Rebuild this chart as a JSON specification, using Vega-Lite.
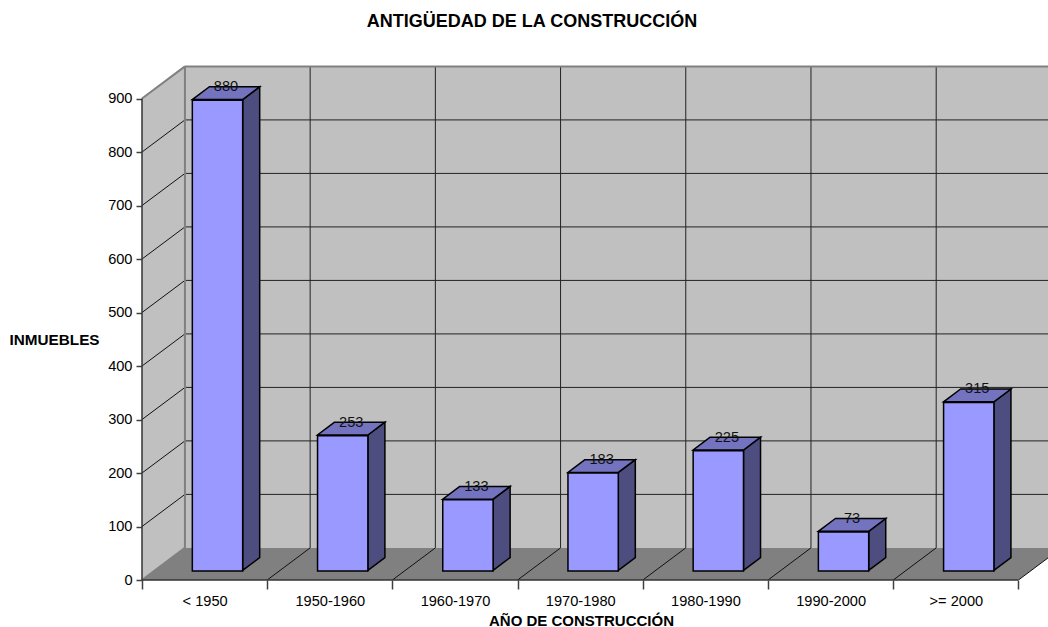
{
"$schema":"https://vega.github.io/schema/vega-lite/v6.json",
"width":906,"height":520,
"autosize":{"type":"none"},
"padding":{"left":142,"top":60,"right":0,"bottom":47},
"background":"white",
"title":{"text":"ANTIGÜEDAD DE LA CONSTRUCCIÓN","font":"Liberation Sans","fontSize":18,"fontWeight":"bold","color":"black","anchor":"middle","frame":"group","dx":-63,"offset":29},
"config":{"view":{"stroke":null},"font":"Liberation Sans"},
"datasets":{
"barras":[
{"categoria":"< 1950","izq":0.402,"der":0.804,"centro":0.671,"valor":880},
{"categoria":"1950-1960","izq":1.402,"der":1.804,"centro":1.671,"valor":253},
{"categoria":"1960-1970","izq":2.402,"der":2.804,"centro":2.671,"valor":133},
{"categoria":"1970-1980","izq":3.402,"der":3.804,"centro":3.671,"valor":183},
{"categoria":"1980-1990","izq":4.402,"der":4.804,"centro":4.671,"valor":225},
{"categoria":"1990-2000","izq":5.402,"der":5.804,"centro":5.671,"valor":73},
{"categoria":">= 2000","izq":6.402,"der":6.804,"centro":6.671,"valor":315}
],
"lateral":[
{"categoria":"< 1950","x":0.804,"abajo":18,"arriba":898},{"categoria":"< 1950","x":0.94,"abajo":42,"arriba":922},
{"categoria":"1950-1960","x":1.804,"abajo":18,"arriba":271},{"categoria":"1950-1960","x":1.94,"abajo":42,"arriba":295},
{"categoria":"1960-1970","x":2.804,"abajo":18,"arriba":151},{"categoria":"1960-1970","x":2.94,"abajo":42,"arriba":175},
{"categoria":"1970-1980","x":3.804,"abajo":18,"arriba":201},{"categoria":"1970-1980","x":3.94,"abajo":42,"arriba":225},
{"categoria":"1980-1990","x":4.804,"abajo":18,"arriba":243},{"categoria":"1980-1990","x":4.94,"abajo":42,"arriba":267},
{"categoria":"1990-2000","x":5.804,"abajo":18,"arriba":91},{"categoria":"1990-2000","x":5.94,"abajo":42,"arriba":115},
{"categoria":">= 2000","x":6.804,"abajo":18,"arriba":333},{"categoria":">= 2000","x":6.94,"abajo":42,"arriba":357}
],
"tapa":[
{"categoria":"< 1950","y":898,"a":0.402,"b":0.804},{"categoria":"< 1950","y":922,"a":0.538,"b":0.94},
{"categoria":"1950-1960","y":271,"a":1.402,"b":1.804},{"categoria":"1950-1960","y":295,"a":1.538,"b":1.94},
{"categoria":"1960-1970","y":151,"a":2.402,"b":2.804},{"categoria":"1960-1970","y":175,"a":2.538,"b":2.94},
{"categoria":"1970-1980","y":201,"a":3.402,"b":3.804},{"categoria":"1970-1980","y":225,"a":3.538,"b":3.94},
{"categoria":"1980-1990","y":243,"a":4.402,"b":4.804},{"categoria":"1980-1990","y":267,"a":4.538,"b":4.94},
{"categoria":"1990-2000","y":91,"a":5.402,"b":5.804},{"categoria":"1990-2000","y":115,"a":5.538,"b":5.94},
{"categoria":">= 2000","y":333,"a":6.402,"b":6.804},{"categoria":">= 2000","y":357,"a":6.538,"b":6.94}
],
"pared":[{"x":0.343,"x2":7.236,"y":60,"y2":960}],
"paredizq":[{"x":0,"y":0,"y2":900},{"x":0.343,"y":60,"y2":960}],
"suelo":[{"y":0,"a":0,"b":7},{"y":60,"a":0.343,"b":7.343}],
"niveles":[{"n":160},{"n":260},{"n":360},{"n":460},{"n":560},{"n":660},{"n":760},{"n":860}],
"sesgos":[{"a":100,"b":160},{"a":200,"b":260},{"a":300,"b":360},{"a":400,"b":460},{"a":500,"b":560},{"a":600,"b":660},{"a":700,"b":760},{"a":800,"b":860}],
"verticales":[{"x":1.343},{"x":2.343},{"x":3.343},{"x":4.343},{"x":5.343},{"x":6.343}],
"diagonales":[{"a":1,"b":1.343},{"a":2,"b":2.343},{"a":3,"b":3.343},{"a":4,"b":4.343},{"a":5,"b":5.343},{"a":6,"b":6.343},{"a":7,"b":7.343}]
},
"layer":[
{"data":{"name":"pared"},"mark":{"type":"rect","fill":"#C0C0C0"},
"encoding":{
"x":{"field":"x","type":"quantitative","scale":{"domain":[0,7.236],"nice":false,"zero":false},
"axis":{"values":[0,0.5,1,1.5,2,2.5,3,3.5,4,4.5,5,5.5,6,6.5,7],"domain":false,"grid":false,"tickSize":9,"tickColor":"#404040","tickWidth":1.5,
"tickOpacity":{"condition":{"test":"datum.value % 1 == 0","value":1},"value":0},
"labelExpr":"datum.value==0.5?'< 1950':datum.value==1.5?'1950-1960':datum.value==2.5?'1960-1970':datum.value==3.5?'1970-1980':datum.value==4.5?'1980-1990':datum.value==5.5?'1990-2000':datum.value==6.5?'>= 2000':''",
"labelOverlap":false,"labelFlush":false,"labelFont":"Liberation Sans","labelFontSize":14.6,"labelColor":"black","labelPadding":12,"labelBaseline":"middle",
"title":"AÑO DE CONSTRUCCIÓN","titleFont":"Liberation Sans","titleFontSize":15,"titleFontWeight":"bold","titleColor":"black","titleX":439,"titleY":40,"titleAlign":"center","titleBaseline":"middle"}},
"x2":{"field":"x2"},
"y":{"field":"y","type":"quantitative","scale":{"domain":[0,972],"nice":false,"zero":false},
"axis":{"values":[0,100,200,300,400,500,600,700,800,900],"domain":false,"grid":false,"tickSize":6,"tickColor":"#404040","tickWidth":1.5,"labelFont":"Liberation Sans","labelFontSize":14.6,"labelColor":"black","labelPadding":4,
"title":"INMUEBLES","titleFont":"Liberation Sans","titleFontSize":15.3,"titleFontWeight":"bold","titleColor":"black","titleAngle":0,"titleX":-88,"titleY":279,"titleAlign":"center","titleBaseline":"middle"}},
"y2":{"field":"y2"}}},
{"data":{"name":"paredizq"},"mark":{"type":"area","fill":"#C0C0C0","orient":"vertical"},
"encoding":{"x":{"field":"x","type":"quantitative","scale":{"domain":[0,7.236],"nice":false,"zero":false}},
"y":{"field":"y","type":"quantitative","scale":{"domain":[0,972],"nice":false,"zero":false}},"y2":{"field":"y2"}}},
{"data":{"name":"suelo"},"mark":{"type":"area","fill":"#808080","orient":"horizontal","clip":true},
"encoding":{"y":{"field":"y","type":"quantitative","scale":{"domain":[0,972],"nice":false,"zero":false}},
"x":{"field":"a","type":"quantitative","scale":{"domain":[0,7.236],"nice":false,"zero":false}},"x2":{"field":"b"}}},
{"data":{"name":"niveles"},"mark":{"type":"rule","stroke":"#222222","strokeWidth":1},
"encoding":{"x":{"datum":0.343,"type":"quantitative","scale":{"domain":[0,7.236],"nice":false,"zero":false}},"x2":{"datum":7.236},
"y":{"field":"n","type":"quantitative","scale":{"domain":[0,972],"nice":false,"zero":false}}}},
{"data":{"name":"verticales"},"mark":{"type":"rule","stroke":"#222222","strokeWidth":1},
"encoding":{"x":{"field":"x","type":"quantitative","scale":{"domain":[0,7.236],"nice":false,"zero":false}},
"y":{"datum":60,"type":"quantitative","scale":{"domain":[0,972],"nice":false,"zero":false}},"y2":{"datum":960}}},
{"data":{"name":"sesgos"},"mark":{"type":"rule","stroke":"#111111","strokeWidth":1},
"encoding":{"x":{"datum":0,"type":"quantitative","scale":{"domain":[0,7.236],"nice":false,"zero":false}},"x2":{"datum":0.343},
"y":{"field":"a","type":"quantitative","scale":{"domain":[0,972],"nice":false,"zero":false}},"y2":{"field":"b"}}},
{"data":{"name":"diagonales"},"mark":{"type":"rule","stroke":"#111111","strokeWidth":1,"clip":true},
"encoding":{"x":{"field":"a","type":"quantitative","scale":{"domain":[0,7.236],"nice":false,"zero":false}},"x2":{"field":"b"},
"y":{"datum":0,"type":"quantitative","scale":{"domain":[0,972],"nice":false,"zero":false}},"y2":{"datum":60}}},
{"data":{"values":[{"a":0,"b":0.343,"c":900,"d":960},{"a":0,"b":0.343,"c":0,"d":60},{"a":0.343,"b":0.343,"c":60,"d":960},{"a":0.343,"b":7.236,"c":960,"d":960}]},"mark":{"type":"rule","stroke":"#808080","strokeWidth":2},
"encoding":{"x":{"field":"a","type":"quantitative","scale":{"domain":[0,7.236],"nice":false,"zero":false}},"x2":{"field":"b"},
"y":{"field":"c","type":"quantitative","scale":{"domain":[0,972],"nice":false,"zero":false}},"y2":{"field":"d"}}},
{"data":{"values":[{"a":0,"b":0,"c":0,"d":900},{"a":0,"b":7,"c":0,"d":0}]},"mark":{"type":"rule","stroke":"#333333","strokeWidth":1.5},
"encoding":{"x":{"field":"a","type":"quantitative","scale":{"domain":[0,7.236],"nice":false,"zero":false}},"x2":{"field":"b"},
"y":{"field":"c","type":"quantitative","scale":{"domain":[0,972],"nice":false,"zero":false}},"y2":{"field":"d"}}},
{"data":{"name":"lateral"},"mark":{"type":"area","fill":"#4D4D80","stroke":"black","strokeWidth":1.5,"orient":"vertical"},
"encoding":{"detail":{"field":"categoria"},"x":{"field":"x","type":"quantitative","scale":{"domain":[0,7.236],"nice":false,"zero":false}},
"y":{"field":"abajo","type":"quantitative","scale":{"domain":[0,972],"nice":false,"zero":false}},"y2":{"field":"arriba"}}},
{"data":{"name":"tapa"},"mark":{"type":"area","fill":"#7373BF","stroke":"black","strokeWidth":1.5,"orient":"horizontal"},
"encoding":{"detail":{"field":"categoria"},"y":{"field":"y","type":"quantitative","scale":{"domain":[0,972],"nice":false,"zero":false}},
"x":{"field":"a","type":"quantitative","scale":{"domain":[0,7.236],"nice":false,"zero":false}},"x2":{"field":"b"}}},
{"data":{"name":"barras"},"mark":{"type":"rect","fill":"#9999FF","stroke":"black","strokeWidth":1.5,"yOffset":-9,"y2Offset":-9},
"encoding":{"x":{"field":"izq","type":"quantitative","scale":{"domain":[0,7.236],"nice":false,"zero":false}},"x2":{"field":"der"},
"y":{"field":"valor","type":"quantitative","scale":{"domain":[0,972],"nice":false,"zero":false}},"y2":{"datum":0}}},
{"data":{"name":"barras"},"mark":{"type":"text","font":"Liberation Sans","fontSize":14.6,"color":"#111111","yOffset":-22,"baseline":"middle","align":"center"},
"encoding":{"x":{"field":"centro","type":"quantitative","scale":{"domain":[0,7.236],"nice":false,"zero":false}},
"y":{"field":"valor","type":"quantitative","scale":{"domain":[0,972],"nice":false,"zero":false}},"text":{"field":"valor","type":"quantitative"}}}
]
}
